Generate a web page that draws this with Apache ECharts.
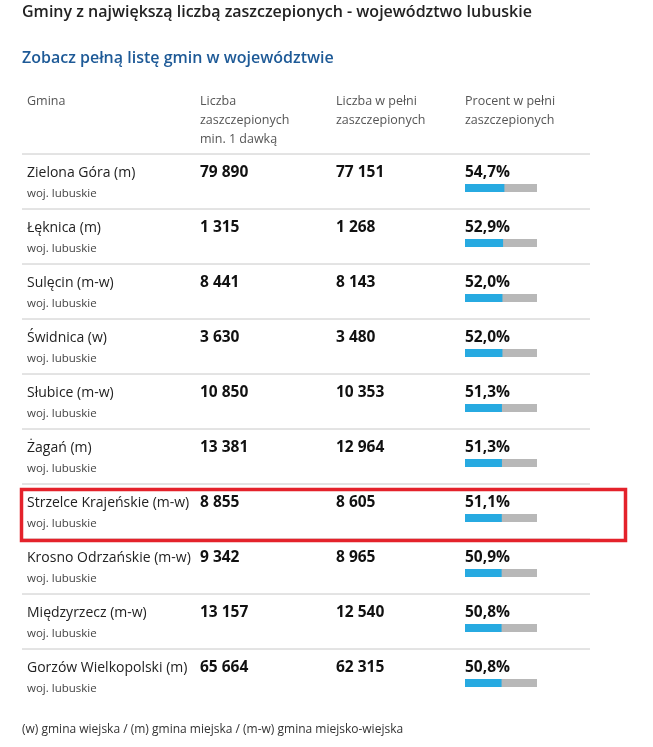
<!DOCTYPE html>
<html><head><meta charset="utf-8">
<script src="https://cdn.jsdelivr.net/npm/echarts@6/dist/echarts.min.js"></script>
<style>html,body{margin:0;padding:0;background:#fff}#c{width:653px;height:747px}</style>
</head><body><div id="c"></div>
<script>
var gminy = ['Zielona Góra (m)','Łęknica (m)','Sulęcin (m-w)','Świdnica (w)','Słubice (m-w)','Żagań (m)','Strzelce Krajeńskie (m-w)','Krosno Odrzańskie (m-w)','Międzyrzecz (m-w)','Gorzów Wielkopolski (m)'];
var dawka1 = ['79 890','1 315','8 441','3 630','10 850','13 381','8 855','9 342','13 157','65 664'];
var pelne = ['77 151','1 268','8 143','3 480','10 353','12 964','8 605','8 965','12 540','62 315'];
var procent = [54.7,52.9,52.0,52.0,51.3,51.3,51.1,50.9,50.8,50.8];

var font = '"Open Sans", sans-serif';
var chart = echarts.init(document.getElementById('c'));
var g = [];
function txt(x, y, s, size, weight, color, lh){
	g.push({type:'text', left:x, top:y, style:{text:s, font:(weight||'normal')+' '+size+'px '+font, fill:color||'#222', lineHeight:lh}});
}
txt(22, 4, 'Gminy z największą liczbą zaszczepionych - województwo lubuskie', 16, '600', '#222');
txt(22, 50, 'Zobacz pełną listę gmin w województwie', 16, '600', '#1e5a97');
txt(27, 92, 'Gmina', 12.5, 'normal', '#555', 19);
txt(200, 92, 'Liczba\nzaszczepionych\nmin. 1 dawką', 12.5, 'normal', '#555', 19);
txt(336, 92, 'Liczba w pełni\nzaszczepionych', 12.5, 'normal', '#555', 19);
txt(465, 92, 'Procent w pełni\nzaszczepionych', 12.5, 'normal', '#555', 19);
for (var i = 0; i < gminy.length; i++) {
	var y = 164 + i * 55;
	g.push({type:'line', shape:{x1:22, y1:y-10, x2:590, y2:y-10}, style:{stroke:'#c8c8c8', lineWidth:1}});
	txt(27, y + 2, gminy[i], 14, 'normal', '#222');
	txt(27, y + 24, 'woj. lubuskie', 11.5, 'normal', '#444');
	txt(200, y + 1, dawka1[i], 15.5, 'bold', '#111');
	txt(336, y + 1, pelne[i], 15.5, 'bold', '#111');
	txt(465, y + 1, procent[i].toFixed(1).replace('.', ',') + '%', 15.5, 'bold', '#111');
}
g.push({type:'rect', shape:{x:21.5, y:489.5, width:604, height:51}, style:{fill:'none', stroke:'#e4222b', lineWidth:3.5}, z:10});
txt(22, 724, '(w) gmina wiejska / (m) gmina miejska / (m-w) gmina miejsko-wiejska', 12, 'normal', '#333');

chart.setOption({
	animation:false,
	grid:{left:465, top:160.5, width:72, height:550},
	xAxis:{type:'value', min:0, max:100, show:false},
	yAxis:{type:'category', data:gminy, inverse:true, show:false},
	series:[{
		type:'bar', data:procent, barWidth:8,
		itemStyle:{color:'#27aae1'},
		showBackground:true, backgroundStyle:{color:'#b8b8b8'}
	}],
	graphic:g
});
</script></body></html>
